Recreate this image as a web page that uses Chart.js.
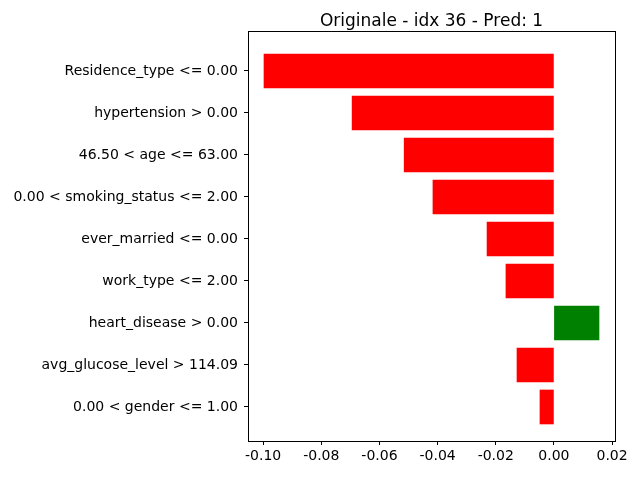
<!DOCTYPE html>
<html lang="en">
  <head>
    <meta charset="utf-8">
    <title>Originale - idx 36</title>
    <style>
      html, body { margin: 0; padding: 0; background: #fff; }
      #wrap { width: 640px; height: 480px; }
    </style>
  </head>
  <body>
    <div id="wrap"><canvas id="MyCanvas"></canvas></div>

    <script src="https://cdn.jsdelivr.net/npm/chart.js@4/dist/chart.umd.min.js"></script>
    <script>
      // feature conditions (top to bottom) and their weights
      const labels = [
        'Residence_type <= 0.00',
        'hypertension > 0.00',
        '46.50 < age <= 63.00',
        '0.00 < smoking_status <= 2.00',
        'ever_married <= 0.00',
        'work_type <= 2.00',
        'heart_disease > 0.00',
        'avg_glucose_level > 114.09',
        '0.00 < gender <= 1.00'
      ];
      const weights = [-0.0997, -0.0694, -0.0515, -0.0416, -0.0230, -0.0165, 0.0155, -0.0127, -0.0048];
      const xTicks = [-0.10, -0.08, -0.06, -0.04, -0.02, 0.00, 0.02];
      const titleText = 'Originale - idx 36 - Pred: 1';

      const font = { family: 'DejaVu Sans', size: 14 };

      // frame round the plot area and the title above it
      const framePlugin = {
        id: 'frame',
        afterDraw(chart) {
          const a = chart.chartArea, c = chart.ctx;
          c.save();
          c.strokeStyle = '#000';
          c.lineWidth = 1;
          c.strokeRect(a.left + 0.5, a.top + 0.5, a.right - a.left, a.bottom - a.top);
          c.fillStyle = '#000';
          c.font = '17px "DejaVu Sans"';
          c.textAlign = 'center';
          c.textBaseline = 'alphabetic';
          c.fillText(titleText, (a.left + a.right) / 2, 26);
          c.restore();
        }
      };

      new Chart(document.getElementById('MyCanvas'), {
        type: 'bar',
        data: {
          datasets: [{
            data: weights.map((w, i) => ({ x: w, y: i })),
            backgroundColor: weights.map(w => w > 0 ? '#008000' : '#ff0000'),
            borderWidth: 0,
            barThickness: 34
          }]
        },
        options: {
          indexAxis: 'y',
          responsive: true,
          maintainAspectRatio: false,
          animation: false,
          layout: { padding: { top: 31, right: 25, left: 0, bottom: 0 } },
          plugins: { legend: { display: false }, tooltip: { enabled: false } },
          scales: {
            x: {
              type: 'linear',
              min: -0.1052,
              max: 0.021,
              afterBuildTicks: s => { s.ticks = xTicks.map(v => ({ value: v })); },
              afterFit: s => { s.height = 39; },
              grid: { drawOnChartArea: false, tickLength: 4, color: '#000' },
              border: { display: false },
              ticks: { color: '#000', font, padding: 3, maxRotation: 0,
                callback: v => v.toFixed(2) }
            },
            y: {
              type: 'linear',
              reverse: true,
              offset: false,
              min: -0.952,
              max: 8.81,
              afterBuildTicks: s => { s.ticks = labels.map((l, i) => ({ value: i })); },
              afterFit: s => { s.width = 248; },
              grid: { offset: false, drawOnChartArea: false, tickLength: 4, color: '#000' },
              border: { display: false },
              ticks: { color: '#000', font, padding: 6,
                callback: v => labels[v] }
            }
          }
        },
        plugins: [framePlugin]
      });
    </script>
  </body>
</html>
